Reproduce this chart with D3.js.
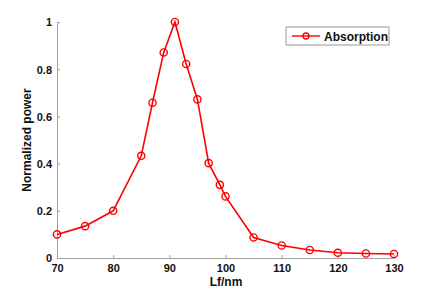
<!doctype html>
<html>
<head>
<meta charset="utf-8">
<script src="https://cdn.jsdelivr.net/npm/d3@7"></script>
<style>
  html, body { margin: 0; padding: 0; background: #fff; }
  svg { display: block; font-family: "Liberation Sans", Arial, sans-serif; }
</style>
</head>
<body>
<svg width="436" height="291"></svg>
<script>
var lf = [70, 75, 80, 85, 87, 89, 91, 93, 95, 97, 99, 100, 105, 110, 115, 120, 125, 130];
var absorption = [0.1, 0.135, 0.2, 0.433, 0.658, 0.871, 1.0, 0.822, 0.672, 0.402, 0.31, 0.261, 0.087, 0.053, 0.034, 0.022, 0.019, 0.017];
var xTicks = [70, 80, 90, 100, 110, 120, 130];
var yTicks = [0, 0.2, 0.4, 0.6, 0.8, 1];
var seriesName = 'Absorption';

var svg = d3.select('svg');
var margin = {left: 57, right: 42, top: 22, bottom: 33};
var w = 436, h = 291;

var x = d3.scaleLinear().domain([70, 130]).range([margin.left, w - margin.right]);
var y = d3.scaleLinear().domain([0, 1]).range([h - margin.bottom, margin.top]);

var axisColor = '#a0a0a0';

// x axis
var xAxis = svg.append('g')
    .attr('transform', 'translate(0,' + (h - margin.bottom) + ')')
    .call(d3.axisBottom(x).tickValues(xTicks).tickSizeInner(-3).tickSizeOuter(0).tickPadding(6));
// y axis
var yAxis = svg.append('g')
    .attr('transform', 'translate(' + margin.left + ',0)')
    .call(d3.axisLeft(y).tickValues(yTicks).tickFormat(d3.format('')).tickSizeInner(-3).tickSizeOuter(0).tickPadding(5));

[xAxis, yAxis].forEach(function(g) {
    g.select('.domain').attr('stroke', axisColor);
    g.selectAll('.tick line').attr('stroke', axisColor);
    g.selectAll('.tick text')
        .attr('fill', '#111')
        .style('font-size', '11px')
        .style('font-weight', 'bold');
});
yAxis.selectAll('.tick text').attr('dy', '0.36em');

// axis titles
svg.append('text')
    .attr('x', 226).attr('y', 286)
    .attr('text-anchor', 'middle')
    .style('font-size', '12px').style('font-weight', 'bold').attr('fill', '#111')
    .text('Lf/nm');
svg.append('text')
    .attr('transform', 'translate(31,' + y(0.5) + ') rotate(-90)')
    .attr('text-anchor', 'middle')
    .style('font-size', '12px').style('font-weight', 'bold').attr('fill', '#111')
    .text('Normalized power');

// series
var line = d3.line()
    .x(function(d, i) { return x(lf[i]); })
    .y(function(d) { return y(d); });

svg.append('path')
    .datum(absorption)
    .attr('fill', 'none')
    .attr('stroke', '#ff0000')
    .attr('stroke-width', 1.6)
    .attr('d', line);

svg.selectAll('circle.pt')
    .data(absorption)
    .enter().append('circle')
    .attr('class', 'pt')
    .attr('cx', function(d, i) { return x(lf[i]); })
    .attr('cy', function(d) { return y(d); })
    .attr('r', 3.6)
    .attr('fill', 'none')
    .attr('stroke', '#ff0000')
    .attr('stroke-width', 1.4);

// legend
var legend = svg.append('g').attr('transform', 'translate(286,27)');
legend.append('rect')
    .attr('width', 103).attr('height', 18)
    .attr('fill', '#fff')
    .attr('stroke', '#999')
    .attr('stroke-width', 1);
legend.append('line')
    .attr('x1', 6).attr('x2', 34).attr('y1', 9).attr('y2', 9)
    .attr('stroke', '#ff0000').attr('stroke-width', 1.4);
legend.append('circle')
    .attr('cx', 20).attr('cy', 9).attr('r', 3)
    .attr('fill', 'none').attr('stroke', '#ff0000').attr('stroke-width', 1.3);
legend.append('text')
    .attr('x', 38).attr('y', 13.5)
    .style('font-size', '12px').style('font-weight', 'bold').attr('fill', '#111')
    .text(seriesName);
</script>
</body>
</html>
